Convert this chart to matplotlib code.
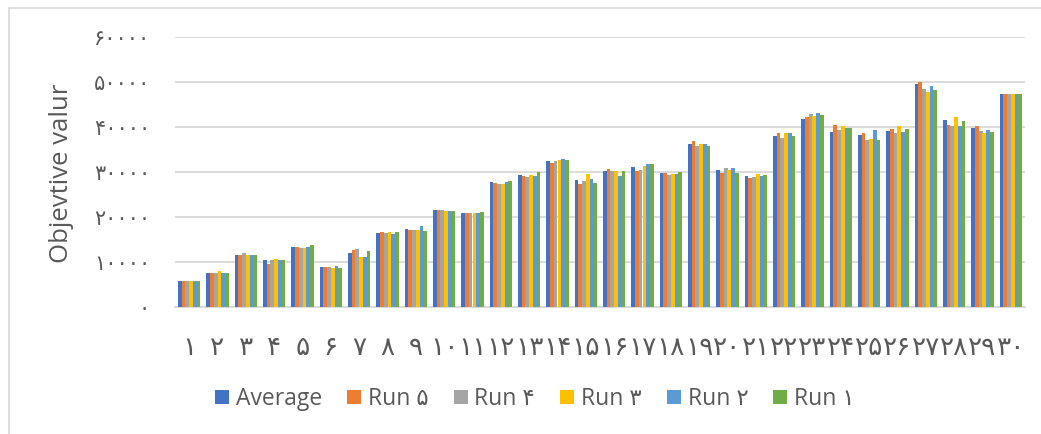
import matplotlib

matplotlib.use("Agg")
import matplotlib.pyplot as plt
import numpy as np
from matplotlib.lines import Line2D
from matplotlib.patches import Patch

# --- data --------------------------------------------------------------------
groups = list(range(1, 31))
series_names = ["Average", "Run 5", "Run 4", "Run 3", "Run 2", "Run 1"]
colors = ["#4472C4", "#ED7D31", "#A5A5A5", "#FFC000", "#5B9BD5", "#70AD47"]

average = [5850, 7700, 11700, 10500, 13400, 8950, 12130, 16580, 17330, 21550,
           21030, 27780, 29330, 32580, 28220, 30220, 31250, 29780, 36220, 30510,
           29180, 38070, 41920, 38960, 38290, 39180, 49550, 41550, 39850, 47450]
run5 = [5850, 7700, 11700, 9650, 13300, 8950, 12670, 16730, 17260, 21550,
        21030, 27560, 29180, 32070, 27470, 30810, 30370, 29780, 36960, 29920,
        28810, 38660, 42290, 40510, 38660, 39620, 50070, 40510, 40360, 47330]
run4 = [5850, 7700, 12050, 10500, 13250, 8950, 12890, 16580, 17260, 21550,
        21030, 27480, 28960, 32510, 28000, 30220, 30550, 29400, 35920, 30960,
        28960, 37550, 42960, 39400, 37110, 38810, 48590, 40360, 39180, 47330]
run3 = [5850, 8050, 11700, 10800, 13250, 8800, 11250, 16650, 17180, 21410,
        21030, 27480, 29400, 32730, 29550, 30220, 31500, 29700, 36220, 30510,
        29630, 38660, 42440, 40220, 37400, 40290, 47770, 42220, 38730, 47330]
run2 = [5850, 7700, 11700, 10500, 13300, 9250, 11250, 16290, 18000, 21410,
        21030, 27850, 29110, 32880, 28510, 29250, 31880, 29700, 36220, 31030,
        29180, 38660, 43180, 39850, 39330, 39030, 49110, 40290, 39470, 47330]
run1 = [5850, 7700, 11700, 10500, 13780, 8800, 12510, 16730, 17030, 21410,
        21100, 28070, 30000, 32810, 27560, 30290, 31850, 30000, 35780, 29850,
        29330, 38070, 42740, 39810, 37180, 39620, 48220, 41330, 38960, 47330]
all_series = [average, run5, run4, run3, run2, run1]

y_ticks = [0, 10000, 20000, 30000, 40000, 50000, 60000]

# Persian (extended Arabic-Indic) digits
FA = str.maketrans("0123456789", "۰۱۲۳۴۵۶۷۸۹")


def fa(value) -> str:
    return str(value).translate(FA)


FONT = ["Open Sans", "DejaVu Sans"]
TXT = "#595959"
GRID = "#D9D9D9"

plt.rcParams["font.family"] = FONT

fig = plt.figure(figsize=(10.41, 4.34), dpi=100)
ax = fig.add_axes([175 / 1041, 1 - 307.3 / 434, 850 / 1041, 270 / 434])

x = np.arange(len(groups))
n = len(all_series)
bar_w = 0.79 / n
for i, (vals, col) in enumerate(zip(all_series, colors)):
    ax.bar(x + (i - (n - 1) / 2) * bar_w, vals, width=bar_w, color=col,
           zorder=3, linewidth=0)

ax.set_xlim(-0.5, len(groups) - 0.5)
ax.set_ylim(0, 60000)
ax.set_yticks(y_ticks)
ax.set_yticklabels([fa(v) for v in y_ticks])
ax.set_xticks(x)
ax.set_xticklabels([fa(g) for g in groups])
ax.yaxis.grid(True, color=GRID, linewidth=1.3, zorder=0)
for s in ("top", "right", "left"):
    ax.spines[s].set_visible(False)
ax.spines["bottom"].set_color(GRID)
ax.spines["bottom"].set_linewidth(1.3)
ax.tick_params(axis="both", length=0, colors=TXT)
ax.tick_params(axis="y", pad=18, labelsize=15)
ax.tick_params(axis="x", pad=21, labelsize=19)

fig.text(61 / 1041, 1 - 173 / 434, "Objevtive valur", rotation=90,
         ha="center", va="center", fontsize=18.5, color=TXT)

handles = [Patch(facecolor=c, edgecolor="none") for c in colors]
labels = [fa(s) for s in series_names]
fig.legend(handles, labels, loc="center", bbox_to_anchor=(535 / 1041, 1 - 399 / 434),
           ncol=6, frameon=False, fontsize=16.5, labelcolor=TXT,
           handlelength=0.6, handleheight=0.6, handletextpad=0.3, columnspacing=1.1)

# chart-area frame (cut at the right and bottom as in the reference)
fig.add_artist(Line2D([9 / 1041, 1], [1 - 8 / 434, 1 - 8 / 434],
                      transform=fig.transFigure, color=GRID, linewidth=1.2))
fig.add_artist(Line2D([9 / 1041, 9 / 1041], [0, 1 - 8 / 434],
                      transform=fig.transFigure, color=GRID, linewidth=1.2))

fig.savefig("out.png", dpi=100)
plt.close(fig)
